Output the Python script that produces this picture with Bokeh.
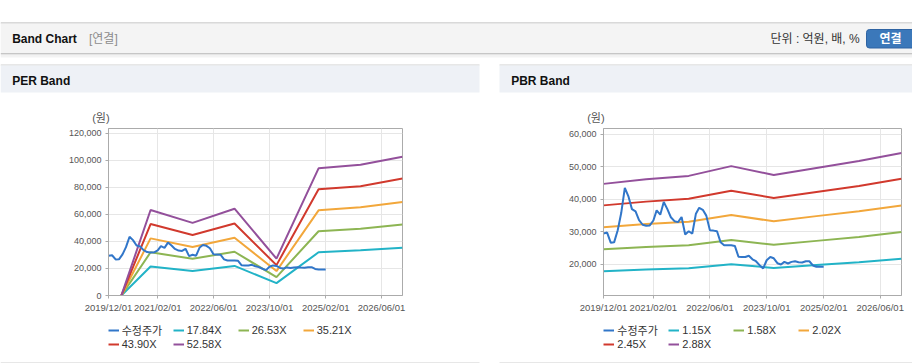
import pandas as pd
from bokeh.plotting import figure
from bokeh.layouts import column, row
from bokeh.models import (Range1d, FixedTicker, DatetimeTickFormatter, NumeralTickFormatter,
                          Legend, LegendItem, Spacer)
from bokeh.core.properties import value
from bokeh.embed import file_html
from bokeh.resources import INLINE

FONT = "Liberation Sans, Noto Sans CJK KR"

# ---------------- data ----------------
price_label = "수정주가"
price_start = "2019-12-01"
price = [29500, 29800, 26700, 26800, 30500, 35800, 43500, 41000, 37000, 36300, 33600, 32200,
         31900, 32000, 33500, 36600, 35300, 39200, 37000, 34500, 33300, 33000, 34600, 29200,
         30200, 29500, 35600, 37400, 36800, 35000, 30500, 30400, 30200, 26800, 25900, 25900,
         25900, 25700, 22400, 22300, 22300, 22700, 21600, 21000, 19800, 18800, 21300, 22300,
         21900, 20400, 20000, 20800, 20300, 20800, 21000, 20700, 20600, 21000, 21000, 19700,
         19300, 19300, 19300]

band_dates = ["2019-12-01", "2020-12-01", "2021-12-01", "2022-12-01",
              "2023-12-01", "2024-12-01", "2025-12-01", "2026-12-01"]

per_labels = ["17.84X", "26.53X", "35.21X", "43.90X", "52.58X"]
per_1784 = [-9500, 21500, 18200, 21900, 9200, 32000, 33500, 35300]
per_2653 = [-14100, 32000, 27200, 32400, 13600, 47600, 49500, 52600]
per_3521 = [-18700, 42300, 36000, 42800, 18100, 63100, 65400, 69300]
per_4390 = [-23300, 52900, 44800, 53300, 22500, 78700, 81000, 86600]
per_5258 = [-27900, 63300, 53800, 64300, 27300, 94200, 96800, 102800]

pbr_labels = ["1.15X", "1.58X", "2.02X", "2.45X", "2.88X"]
pbr_115 = [17900, 18450, 18850, 20050, 18950, 19850, 20700, 21750]
pbr_158 = [24650, 25350, 25900, 27550, 26050, 27250, 28450, 29950]
pbr_202 = [31400, 32400, 33100, 35200, 33250, 34850, 36350, 38100]
pbr_245 = [38150, 39300, 40150, 42650, 40400, 42250, 44100, 46350]
pbr_288 = [44750, 46150, 47200, 50200, 47450, 49650, 51800, 54250]

x_tick_dates = ["2019-12-01", "2021-02-01", "2022-06-01", "2023-10-01", "2025-02-01", "2026-06-01"]
x_start, x_end = "2019-12-01", "2026-12-01"
per_yticks = [0, 20000, 40000, 60000, 80000, 100000, 120000]
pbr_yticks = [20000, 30000, 40000, 50000, 60000]
y_unit = "(원)"

price_color = "#3176c9"
band_colors = ["#22b3c7", "#8db553", "#f2a73b", "#d1392d", "#93509b"]

price_dt = pd.date_range(price_start, periods=len(price), freq="MS")
band_dt = pd.to_datetime(band_dates)


def bare(width, height, xr, yr):
    p = figure(width=width, height=height, x_range=Range1d(*xr), y_range=Range1d(*yr),
               output_backend="svg", toolbar_location=None, min_border=0, title=None,
               min_border_left=0, min_border_right=0, min_border_top=0, min_border_bottom=0,
               x_axis_type=None, y_axis_type=None, outline_line_color=None,
               background_fill_color="white", border_fill_color="white")
    p.frame_align = False
    return p


def txt(p, x, y, s, size="12px", bold=False, color="#111111", align="left"):
    p.text(x=[x], y=[y], text=[s], text_font=value(FONT), text_font_size=size,
           text_font_style="bold" if bold else "normal", text_color=color,
           text_baseline="middle", text_align=align)


def band(p, l, r, t, b, c):
    p.quad(left=[l], right=[r], top=[t], bottom=[b], fill_color=c, line_color=None)


# ---------------- top header + panel headers (page pixel coords) ----------------
header = bare(912, 124, (0, 912), (124, 0))
band(header, 0, 912, 22, 23, "#b4b4b4")
band(header, 0, 912, 23, 52.5, "#f4f4f4")
band(header, 0, 912, 52.5, 53.5, "#c6c6c6")
band(header, 0, 912, 53.5, 55, "#e4e4e4")
band(header, 0, 912, 55, 57, "#f3f3f3")
txt(header, 11.7, 38.3, "Band Chart", bold=True)
txt(header, 88.5, 38.3, "[연결]", color="#8c8c8c")
txt(header, 770, 38.3, "단위 : 억원, 배, %", color="#333333")
header.quad(left=[866], right=[920], top=[29], bottom=[47.5], fill_color="#3b78ba",
            line_color="#2e63a2", border_radius=3)
txt(header, 890, 38.5, "연결", bold=True, color="white", align="center")
for x0, x1, label, ux in [(0, 479, "PER Band", 91.7), (499, 912, "PBR Band", 586.7)]:
    band(header, x0, x1, 64, 65, "#d0d0d0")
    band(header, x0, x1, 65, 92, "#eef1f6")
    txt(header, x0 + 11.7, 80.7, label, bold=True)
    txt(header, ux, 117.7, y_unit, size="11px", color="#555555")


def make_chart(width, left_b, right_b, y_lo, y_hi, y_ticks, bands):
    p = figure(width=width, height=193, x_axis_type="datetime", title=None,
               x_range=Range1d(pd.Timestamp(x_start), pd.Timestamp(x_end)),
               y_range=Range1d(y_lo, y_hi), output_backend="svg", toolbar_location=None,
               min_border_left=left_b, min_border_right=right_b, min_border_top=4,
               min_border_bottom=22, background_fill_color="white", border_fill_color="white",
               outline_line_color="#ababab")
    for vals, c in zip(bands, band_colors):
        p.line(band_dt, vals, line_color=c, line_width=2)
    p.line(price_dt, price, line_color=price_color, line_width=2)

    p.xaxis.ticker = FixedTicker(ticks=[pd.Timestamp(d).timestamp() * 1000 for d in x_tick_dates])
    fmt = "%Y/%m/%d"
    p.xaxis.formatter = DatetimeTickFormatter(
        microseconds=fmt, milliseconds=fmt, seconds=fmt, minsec=fmt, minutes=fmt,
        hourmin=fmt, hours=fmt, days=fmt, months=fmt, years=fmt)
    p.yaxis.ticker = FixedTicker(ticks=y_ticks)
    p.yaxis.formatter = NumeralTickFormatter(format="0,0")
    for ax in (p.xaxis, p.yaxis):
        ax.axis_line_color = "#ababab"
        ax.major_tick_line_color = "#ababab"
        ax.major_tick_out = 3
        ax.major_tick_in = 0
        ax.minor_tick_line_color = None
        ax.major_label_text_color = "#555555"
        ax.major_label_text_font = FONT
    p.xaxis.major_label_text_font_size = "9.5px"
    p.xaxis.major_label_standoff = 3
    p.yaxis.major_label_text_font_size = "9px"
    p.yaxis.major_label_standoff = 4
    p.grid.grid_line_color = "#e6e6e6"
    return p


per_fig = make_chart(479, 108, 77, 0, 123700, per_yticks,
                     [per_1784, per_2653, per_3521, per_4390, per_5258])
pbr_fig = make_chart(413, 104, 11, 10480, 61750, pbr_yticks,
                     [pbr_115, pbr_158, pbr_202, pbr_245, pbr_288])

# ---------------- footer: legends + bottom rules ----------------
footer = bare(912, 46, (0, 912), (363, 317))
band(footer, 0, 479, 362, 363, "#d0d0d0")
band(footer, 499, 912, 362, 363, "#d0d0d0")

NAN = [float("nan")]


def add_legend(p, labels, sx):
    # legend swatches only: renderers carry no visible data
    rs = [p.line(x=NAN, y=NAN, line_color=price_color, line_width=2)] + \
         [p.line(x=NAN, y=NAN, line_color=c, line_width=2) for c in band_colors]
    items = [LegendItem(label=l, renderers=[r]) for l, r in zip([price_label] + labels, rs)]
    lg = Legend(items=items, orientation="horizontal", ncols=4, location=(sx, 13.5),
                glyph_width=11, glyph_height=10, label_standoff=3, label_width=51,
                label_height=10, spacing=0, padding=0, margin=0, border_line_color=None,
                background_fill_alpha=0, label_text_font_size="11px",
                label_text_font=FONT, label_text_color="#333333")
    p.add_layout(lg)


add_legend(footer, per_labels, 107.7)
add_legend(footer, pbr_labels, 603.3)

body = row(per_fig, Spacer(width=20, height=10), pbr_fig, spacing=0)
page = column(header, body, footer, spacing=0)

open("out.html", "w").write(file_html(page, INLINE))
